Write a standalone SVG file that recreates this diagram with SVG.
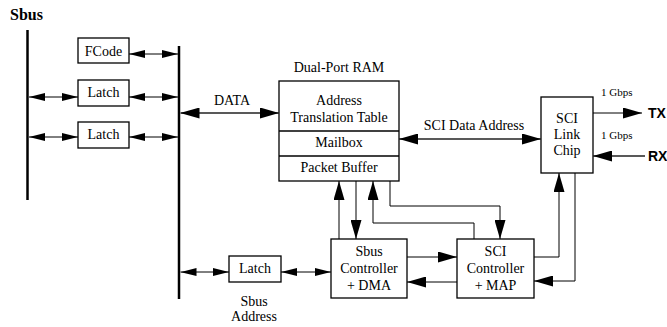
<svg xmlns="http://www.w3.org/2000/svg" width="667" height="327" viewBox="0 0 667 327">
  <style>
    .box { fill: #fff; stroke: #000; stroke-width: 1.3; }
    .bus { stroke: #000; stroke-width: 2.5; fill: none; }
    .wire { stroke: #000; stroke-width: 1; fill: none; }
    .wire2 { stroke: #222; stroke-width: 1.6; fill: none; }
    text { font-family: "Liberation Serif", "Times New Roman", serif; fill: #000; }
    .t { font-size: 14px; }
    .c { text-anchor: middle; }
    .small { font-size: 11px; }
    .title { font-size: 16px; font-weight: bold; }
    text.io { font-family: "Liberation Sans", Arial, sans-serif; font-size: 14px; font-weight: bold; }
  </style>
  <defs>
    <marker id="ah" viewBox="0 0 19 11" refX="19" refY="5.5" markerWidth="19" markerHeight="11" markerUnits="userSpaceOnUse" orient="auto-start-reverse">
      <path d="M0,0 L19,5.5 L0,11 z" fill="#000"/>
    </marker>
    <marker id="ahs" viewBox="0 0 16 8" refX="16" refY="4" markerWidth="16" markerHeight="8" markerUnits="userSpaceOnUse" orient="auto-start-reverse">
      <path d="M0,0 L16,4 L0,8 z" fill="#000"/>
    </marker>
  </defs>

  <!-- bus lines -->
  <g id="sbus">
    <text class="title" x="10" y="20">Sbus</text>
    <line class="bus" x1="27.5" y1="30" x2="27.5" y2="200"/>
  </g>
  <g id="internal-bus">
    <line class="bus" x1="179" y1="46" x2="179" y2="299"/>
  </g>

  <!-- nodes -->
  <g id="fcode">
    <rect class="box" x="78" y="38" width="51" height="25"/>
    <text class="t c" x="103.5" y="56">FCode</text>
  </g>
  <g id="latch1">
    <rect class="box" x="78" y="80" width="51" height="26"/>
    <text class="t c" x="103.5" y="97">Latch</text>
  </g>
  <g id="latch2">
    <rect class="box" x="78" y="122" width="51" height="26"/>
    <text class="t c" x="103.5" y="139">Latch</text>
  </g>
  <g id="dual-port-ram">
    <text class="t c" x="339" y="72">Dual-Port RAM</text>
    <rect class="box" x="279" y="81" width="120" height="100"/>
    <line class="wire" x1="279" y1="131" x2="399" y2="131" style="stroke-width:1.3"/>
    <line class="wire" x1="279" y1="156" x2="399" y2="156" style="stroke-width:1.3"/>
    <text class="t c" x="339" y="105">Address</text>
    <text class="t c" x="339" y="122">Translation Table</text>
    <text class="t c" x="339" y="147">Mailbox</text>
    <text class="t c" x="339" y="172">Packet Buffer</text>
  </g>
  <g id="sci-link-chip">
    <rect class="box" x="541" y="97" width="52" height="76"/>
    <text class="t c" x="567" y="123">SCI</text>
    <text class="t c" x="567" y="139">Link</text>
    <text class="t c" x="567" y="155">Chip</text>
  </g>
  <g id="sbus-controller">
    <rect class="box" x="331" y="239" width="76" height="59"/>
    <text class="t c" x="369" y="256">Sbus</text>
    <text class="t c" x="369" y="273">Controller</text>
    <text class="t c" x="369" y="290">+ DMA</text>
  </g>
  <g id="sci-controller">
    <rect class="box" x="457" y="239" width="77" height="59"/>
    <text class="t c" x="495.5" y="256">SCI</text>
    <text class="t c" x="495.5" y="273">Controller</text>
    <text class="t c" x="495.5" y="290">+ MAP</text>
  </g>
  <g id="latch3">
    <rect class="box" x="229" y="256" width="52" height="26"/>
    <text class="t c" x="255" y="273">Latch</text>
  </g>

  <!-- connectors -->
  <g id="connectors">
    <line class="wire" x1="129" y1="54" x2="178" y2="54" marker-start="url(#ahs)" marker-end="url(#ahs)"/>
    <line class="wire" x1="29" y1="97" x2="78" y2="97" marker-start="url(#ahs)" marker-end="url(#ahs)"/>
    <line class="wire" x1="129" y1="97" x2="178" y2="97" marker-start="url(#ahs)" marker-end="url(#ahs)"/>
    <line class="wire" x1="29" y1="137" x2="78" y2="137" marker-start="url(#ahs)" marker-end="url(#ahs)"/>
    <line class="wire" x1="129" y1="137" x2="178" y2="137" marker-start="url(#ahs)" marker-end="url(#ahs)"/>

    <line class="wire2" x1="180.5" y1="113" x2="279" y2="113" marker-start="url(#ah)" marker-end="url(#ah)"/>
    <line class="wire2" x1="399" y1="139" x2="541" y2="139" marker-start="url(#ah)" marker-end="url(#ah)"/>

    <line class="wire" x1="593" y1="113" x2="642" y2="113" marker-end="url(#ah)"/>
    <line class="wire2" x1="645" y1="156" x2="593" y2="156" marker-end="url(#ah)"/>

    <line class="wire" x1="339" y1="239" x2="339" y2="181" marker-end="url(#ah)"/>
    <line class="wire" x1="356" y1="181" x2="356" y2="239" marker-end="url(#ah)"/>
    <path class="wire" d="M474,239 V223 H373 V181" marker-end="url(#ah)"/>
    <path class="wire" d="M390,181 V206 H500 V239" marker-end="url(#ah)"/>

    <line class="wire" x1="407" y1="257" x2="457" y2="257" marker-end="url(#ah)"/>
    <line class="wire" x1="457" y1="282" x2="407" y2="282" marker-end="url(#ah)"/>

    <path class="wire" d="M534,257 H559 V173" marker-end="url(#ah)"/>
    <path class="wire" d="M575,173 V281 H534" marker-end="url(#ah)"/>

    <line class="wire" x1="180.5" y1="272" x2="229" y2="272" marker-start="url(#ahs)" marker-end="url(#ahs)"/>
    <line class="wire" x1="281" y1="272" x2="331" y2="272" marker-start="url(#ahs)" marker-end="url(#ahs)"/>
  </g>

  <!-- labels -->
  <g id="labels">
    <text class="t c" x="232" y="105">DATA</text>
    <text class="t c" x="474" y="130">SCI Data Address</text>
    <text class="small" x="601" y="96">1 Gbps</text>
    <text class="small" x="601" y="139">1 Gbps</text>
    <text class="io" x="648" y="118">TX</text>
    <text class="io" x="648" y="161">RX</text>
    <text class="t c" x="254" y="306">Sbus</text>
    <text class="t c" x="254" y="321">Address</text>
  </g>
</svg>
